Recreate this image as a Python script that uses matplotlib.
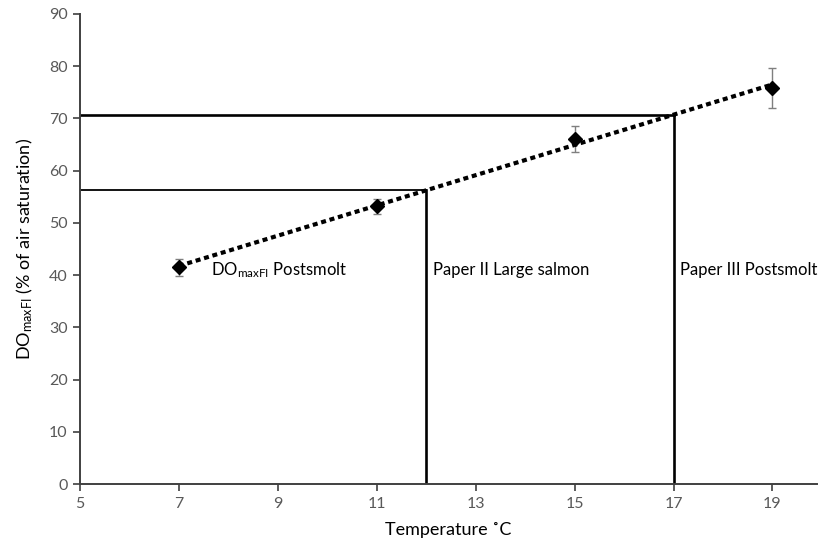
"""Optimal dissolved oxygen for feed intake versus temperature."""

from __future__ import annotations

from pathlib import Path

import matplotlib

matplotlib.use("Agg")
import matplotlib.pyplot as plt
import numpy as np


# Measured DO_maxFI per temperature group (mean and error)
temperatures = [7, 11, 15, 19]
do_maxfi = [41.5, 53.2, 66.1, 75.8]
do_error = [1.7, 1.4, 2.5, 3.85]

# Temperatures used in the earlier papers
paper_temperatures = [12, 17]
paper_labels = ["Paper II Large salmon", "Paper III Postsmolt"]
series_label = r"DO$_{\mathregular{maxFI}}$ Postsmolt"

x_ticks = [5, 7, 9, 11, 13, 15, 17, 19]
y_ticks = [0, 10, 20, 30, 40, 50, 60, 70, 80, 90]

AXIS_GREY = "#404040"
TICK_GREY = "#595959"
LABEL_SIZE = 12


def plot_do_vs_temperature(output_path: Path) -> Path:
    """Save the DO_maxFI vs temperature chart with the paper cut-offs."""

    plt.rcParams["font.family"] = ["Lato", "DejaVu Sans"]
    plt.rcParams["mathtext.default"] = "regular"

    fig, axis = plt.subplots(figsize=(8.29, 5.49), dpi=100)
    fig.subplots_adjust(left=0.0965, right=0.9855, top=0.9745, bottom=0.118)

    # linear trend through the group means
    slope, intercept = np.polyfit(temperatures, do_maxfi, 1)
    trend_x = np.array([temperatures[0], temperatures[-1]])
    axis.plot(
        trend_x,
        slope * trend_x + intercept,
        color="black",
        linewidth=3.0,
        linestyle=(0, (1.2, 0.9)),
        dash_capstyle="butt",
        zorder=3,
    )

    # read-off lines for the paper temperatures
    for temp, width in zip(paper_temperatures, [1.3, 1.9]):
        level = slope * temp + intercept
        axis.plot([5, temp], [level, level], color="black", linewidth=width, zorder=2)
        axis.plot([temp, temp], [0, level], color="black", linewidth=1.9, zorder=2)

    axis.errorbar(
        temperatures,
        do_maxfi,
        yerr=do_error,
        fmt="D",
        color="black",
        markersize=7.5,
        ecolor="#7f7f7f",
        elinewidth=1.0,
        capsize=3,
        capthick=1.0,
        zorder=4,
    )

    axis.text(7.65, 41, series_label, fontsize=LABEL_SIZE, va="center", ha="left")
    for temp, label in zip(paper_temperatures, paper_labels):
        axis.text(temp + 0.13, 41, label, fontsize=LABEL_SIZE, va="center", ha="left")

    axis.set_xlim(5, 19.9)
    axis.set_ylim(0, 90)
    axis.set_xticks(x_ticks)
    axis.set_yticks(y_ticks)
    axis.tick_params(
        direction="out", length=5, width=1.2, color=AXIS_GREY,
        labelcolor=TICK_GREY, labelsize=11.5, pad=4,
    )
    for side in ("top", "right"):
        axis.spines[side].set_visible(False)
    for side in ("left", "bottom"):
        axis.spines[side].set_color(AXIS_GREY)
        axis.spines[side].set_linewidth(1.4)

    axis.set_xlabel("Temperature ˚C", fontsize=13, labelpad=8)
    axis.set_ylabel(r"DO$_{maxFI}$ (% of air saturation)", fontsize=13, labelpad=10)

    output_path.parent.mkdir(parents=True, exist_ok=True)
    fig.savefig(output_path, dpi=100)
    plt.close(fig)
    return output_path


if __name__ == "__main__":
    plot_do_vs_temperature(Path("out.png"))
